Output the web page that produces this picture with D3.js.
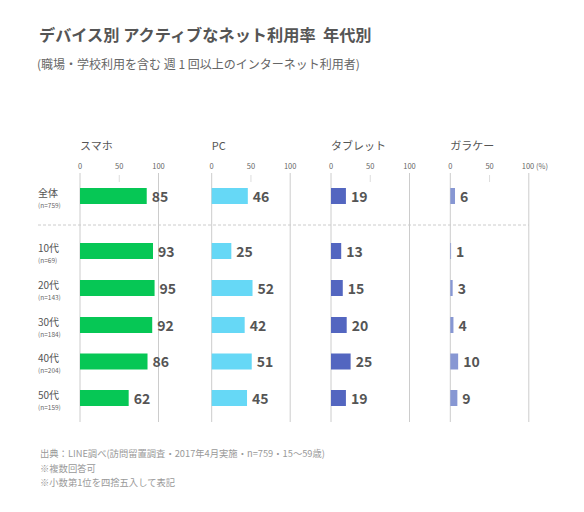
<!DOCTYPE html>
<html><head><meta charset="utf-8">
<script src="https://cdn.jsdelivr.net/npm/d3@7"></script>
<style>
body{margin:0;background:#fff;}
text{font-family:"Noto Sans CJK JP","Noto Sans",sans-serif;white-space:pre;}
</style></head>
<body><svg id="c" width="584" height="512"></svg>
<script>
const groups = ["全体","10代","20代","30代","40代","50代"];
const groupN = ["(n=759)","(n=69)","(n=143)","(n=184)","(n=204)","(n=159)"];
const devices = ["スマホ","PC","タブレット","ガラケー"];
const smartphone = [85,93,95,92,86,62];
const pc = [46,25,52,42,51,45];
const tablet = [19,13,15,20,25,19];
const feature = [6,1,3,4,10,9];
const tickValues = [0,50,100];
const colors = ["#06c755","#66d8f6","#5366c0","#8797d3"];
const title = "デバイス別 アクティブなネット利用率  年代別";
const subtitle = "(職場・学校利用を含む 週 1 回以上のインターネット利用者)";
const notes = ["出典：LINE調べ(訪問留置調査・2017年4月実施・n=759・15〜59歳)","※複数回答可","※小数第1位を四捨五入して表記"];

const series = [smartphone,pc,tablet,feature];
const svg = d3.select("#c");
svg.append("text").attr("x",39).attr("y",41).attr("font-size",16.2).attr("font-weight",700).attr("fill","#555").text(title);
svg.append("text").attr("x",37).attr("y",69).attr("font-size",12).attr("fill","#666").text(subtitle);

const panelX = [80,211.7,331,450.3];
const panelW = 78.5;
const axisTop = 173, axisBottom = 422;
const rowCenters = [196,251,288,325,361.5,398];
const y = d => rowCenters[groups.indexOf(d)];
const barH = 16;

devices.forEach((dev,i)=>{
  const x = d3.scaleLinear().domain([0,100]).range([panelX[i],panelX[i]+panelW]);
  const g = svg.append("g");
  g.append("text").attr("x",panelX[i]).attr("y",150).attr("font-size",11).attr("fill","#555").text(dev);
  g.selectAll(".tl").data(tickValues).enter().append("text")
    .attr("x",d=>x(d)).attr("y",169).attr("text-anchor",(d)=>d===100&&i===3?"start":"middle")
    .attr("dx",d=>d===100&&i===3?-7:0)
    .attr("font-size",7.5).attr("fill","#666")
    .text(d=>d===100&&i===3?"100 (%)":d);
  g.selectAll(".ln").data([0,100]).enter().append("line")
    .attr("x1",d=>x(d)).attr("x2",d=>x(d)).attr("y1",axisTop).attr("y2",axisBottom)
    .attr("stroke","#ccc").attr("stroke-width",1);
  g.append("line").attr("x1",x(50)).attr("x2",x(50)).attr("y1",175).attr("y2",182).attr("stroke","#ddd");
  g.selectAll("rect").data(groups).enter().append("rect")
    .attr("x",x(0)).attr("y",d=>y(d)-barH/2).attr("height",barH)
    .attr("width",(d,j)=>x(series[i][j])-x(0)).attr("fill",colors[i]);
  g.selectAll(".v").data(groups).enter().append("text")
    .attr("x",(d,j)=>x(series[i][j])+5).attr("y",d=>y(d)+5.5)
    .attr("font-size",14).attr("font-weight",700).attr("fill","#555")
    .text((d,j)=>series[i][j]);
});
svg.append("line").attr("x1",38).attr("x2",529).attr("y1",225).attr("y2",225)
  .attr("stroke","#ccc").attr("stroke-dasharray","3,2");
groups.forEach((gname,j)=>{
  svg.append("text").attr("x",38).attr("y",y(gname)+0.5).attr("font-size",10).attr("fill","#555").text(gname);
  svg.append("text").attr("x",38).attr("y",y(gname)+11.5).attr("font-size",6.5).attr("fill","#666").text(groupN[j]);
});
notes.forEach((t,k)=>{
  svg.append("text").attr("x",40).attr("y",457+k*14.5).attr("font-size",9.3).attr("fill","#999").text(t);
});
</script></body></html>
